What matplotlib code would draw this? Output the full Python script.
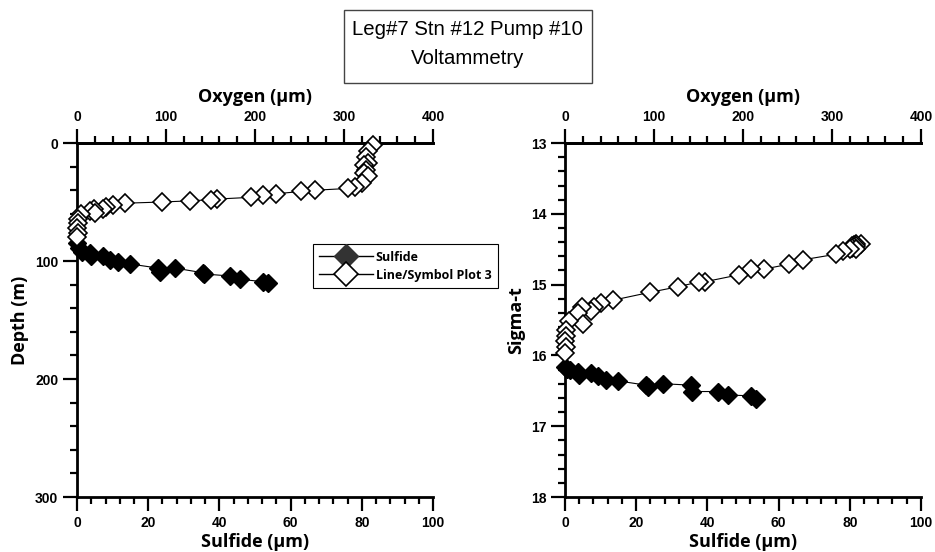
import numpy as np
import matplotlib.pyplot as plt
from matplotlib.ticker import MultipleLocator
from matplotlib.lines import Line2D
from matplotlib.patches import Rectangle

# oxygen profile (µM) with depth (m) and sigma-t
o2_vals = [333, 327, 325, 327, 322, 325, 322, 327, 320, 312, 305, 267, 252, 224,
           209, 196, 157, 151, 127, 95, 54, 40, 33, 29, 19, 15, 20, 4, 1, 1, 0, 1, 0]
o2_depth = [2, 7, 11.5, 17, 18.5, 23, 25.5, 28, 34, 37, 38.5, 40, 41, 43,
            44, 46, 47.5, 48, 49, 50, 51, 52.5, 54, 55.5, 56, 58, 59.5, 60, 64, 68, 72, 76, 80]
o2_sigma = [14.42, 14.43, 14.44, 14.45, 14.46, 14.47, 14.48, 14.49, 14.50, 14.53, 14.57,
            14.65, 14.71, 14.78, 14.78, 14.86, 14.96, 14.96, 15.03, 15.11, 15.22, 15.26,
            15.31, 15.37, 15.31, 15.40, 15.55, 15.51, 15.64, 15.72, 15.80, 15.88, 15.97]

# sulfide profile (µM)
h2s_vals = [0, 0.5, 1.3, 3.7, 4, 7.4, 9.3, 11.6, 14.9, 22.8, 23.3, 27.5, 35.5, 35.8,
            43, 45.8, 52.3, 53.7]
h2s_depth = [85, 89, 92, 93.5, 96, 96, 99, 100.5, 102.5, 106, 109, 106, 110, 111,
             112.7, 115.5, 117.5, 119]
h2s_sigma = [16.16, 16.19, 16.21, 16.23, 16.27, 16.25, 16.29, 16.35, 16.36, 16.42, 16.45,
             16.40, 16.42, 16.51, 16.51, 16.56, 16.57, 16.61]

title_lines = ["Leg#7 Stn #12 Pump #10", "Voltammetry"]
lab_font = 'Open Sans'
tick_font = 'Liberation Sans'

fig = plt.figure(figsize=(9.35, 5.52), dpi=100)

# title box
fig.patches.append(Rectangle((0.368, 0.8496), 0.2652, 0.1322, transform=fig.transFigure,
                             fc='white', ec='#444444', lw=1))
fig.text(0.5, 0.9457, title_lines[0], ha='center', va='center', fontsize=14.7, family=tick_font)
fig.text(0.5, 0.8949, title_lines[1], ha='center', va='center', fontsize=14.7, family=tick_font)


def style_axis(ax):
    ax.spines['right'].set_visible(False)
    for s in ['left', 'top', 'bottom']:
        ax.spines[s].set_linewidth(2)
    ax.tick_params(which='major', length=10, width=1.6, direction='out')
    ax.tick_params(which='minor', length=5, width=1.6, direction='out')
    for lab in ax.get_xticklabels() + ax.get_yticklabels():
        lab.set_fontfamily(tick_font)
        lab.set_fontweight('bold')
        lab.set_fontsize(10)


def make_panel(rect, o2_y, h2s_y, ylim, ymaj, ymin, ylabel, legend=False):
    ax = fig.add_axes(rect)
    ax.plot(h2s_vals, h2s_y, '-', color='black', lw=0.8, marker='D', ms=9,
            mfc='black', mec='black', zorder=3, clip_on=False)
    ax.set_xlim(0, 100)
    ax.set_ylim(*ylim)
    ax.xaxis.set_major_locator(MultipleLocator(20))
    ax.xaxis.set_minor_locator(MultipleLocator(4))
    ax.yaxis.set_major_locator(MultipleLocator(ymaj))
    ax.yaxis.set_minor_locator(MultipleLocator(ymin))
    ax.set_xlabel('Sulfide (µm)', family=lab_font, fontweight='bold', fontsize=13, labelpad=2)
    ax.set_ylabel(ylabel, family=lab_font, fontweight='bold', fontsize=13, labelpad=4)

    ax2 = ax.twiny()
    ax2.plot(o2_vals, o2_y, '-', color='black', lw=0.8, marker='D', ms=9,
             mfc='white', mec='black', mew=1.2, zorder=3, clip_on=False)
    ax2.set_xlim(0, 400)
    ax2.xaxis.set_major_locator(MultipleLocator(100))
    ax2.xaxis.set_minor_locator(MultipleLocator(20))
    ax2.set_xlabel('Oxygen (µm)', family=lab_font, fontweight='bold', fontsize=13, labelpad=6)
    ax2.spines['bottom'].set_visible(False)
    ax2.spines['left'].set_visible(False)
    style_axis(ax)
    style_axis(ax2)

    if legend:
        handles = [
            Line2D([], [], color='black', lw=1, marker='D', ms=12, mfc='#333333', mec='#333333'),
            Line2D([], [], color='black', lw=1, marker='D', ms=12, mfc='white', mec='black', mew=1.2),
        ]
        leg = ax2.legend(handles, ['Sulfide', 'Line/Symbol Plot 3'], loc='upper left',
                         bbox_to_anchor=(0.662, 0.714), fancybox=False, framealpha=1,
                         edgecolor='black', handlelength=4.3, handletextpad=0.25,
                         borderpad=0.5, labelspacing=0.4, borderaxespad=0,
                         prop=dict(family=lab_font, weight='bold', size=9))
        leg.get_frame().set_linewidth(0.8)
        leg.set_zorder(10)
    return ax, ax2


make_panel([0.0824, 0.0996, 0.3807, 0.6413], o2_depth, h2s_depth, (300, 0), 100, 20,
           'Depth (m)', legend=True)
make_panel([0.6043, 0.0996, 0.3807, 0.6413], o2_sigma, h2s_sigma, (18, 13), 1, 0.2,
           'Sigma-t')

fig.savefig('out.png', dpi=100)
